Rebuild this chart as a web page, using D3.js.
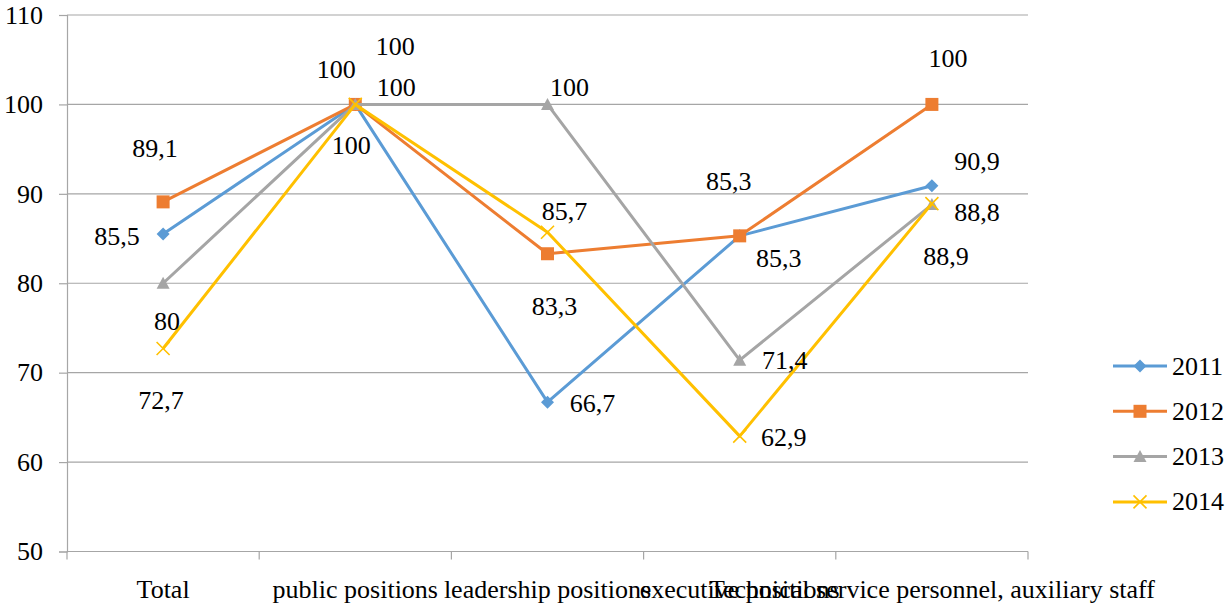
<!DOCTYPE html>
<html>
<head>
<meta charset="utf-8">
<script src="https://cdn.jsdelivr.net/npm/d3@7"></script>
<style>
  html, body { margin: 0; padding: 0; background: #fff; }
  #chart text { font-family: "Liberation Serif"; }
</style>
</head>
<body>
<svg id="chart" width="1228" height="606" font-family="Liberation Serif"></svg>
<script>
// Categories along the x axis
const categories = [
  "Total",
  "public positions",
  "leadership positions",
  "executive positions",
  "Technical service personnel, auxiliary staff"
];

// One series per year
const years = ["2011", "2012", "2013", "2014"];
const values2011 = [85.5, 100, 66.7, 85.3, 90.9];
const values2012 = [89.1, 100, 83.3, 85.3, 100];
const values2013 = [80, 100, 100, 71.4, 88.8];
const values2014 = [72.7, 100, 85.7, 62.9, 88.9];
const yTicks = [50, 60, 70, 80, 90, 100, 110];

// Styling per series
const colors = ["#5B9BD5", "#ED7D31", "#A5A5A5", "#FFC000"];
const markers = ["diamond", "square", "triangle", "cross"];

// Data label placement (dx, dy from the point, text centre)
const labelOffsets = [
  [[-46, 2], [40, -58], [45, 1], [39, 23], [45, -24]],
  [[-8, -53], [-19, -35], [7, 53], [-11, -54], [16, -46]],
  [[4, 38], [41, -17], [22, -17], [45, 0], [45, 8]],
  [[-2, 52], [-4, 41], [17, -21], [44, 1], [14, 53]]
];

const seriesValues = [values2011, values2012, values2013, values2014];
const series = years.map((name, i) => ({
  name,
  color: colors[i],
  marker: markers[i],
  values: seriesValues[i],
  offsets: labelOffsets[i]
}));

const fmt = v => String(v).replace(".", ",");

const FONT = '"Liberation Serif"';
const svg = d3.select("#chart");
const plotLeft = 67, plotRight = 1028, plotTop = 15, plotBottom = 551.5;
const gridColor = "#A6A6A6";
const fontSize = 26;

const x = d3.scaleBand().domain(categories).range([plotLeft, plotRight]).padding(0);
const y = d3.scaleLinear().domain([50, 110]).range([plotBottom, plotTop]);
const cx = c => x(c) + x.bandwidth() / 2;

function styleText(sel) {
  return sel
    .attr("font-family", "Liberation Serif")
    .style("font-family", FONT)
    .style("font-size", fontSize + "px")
    .style("font-weight", "normal")
    .attr("fill", "#000");
}

// Horizontal gridlines
svg.append("g")
  .selectAll("line")
  .data(yTicks)
  .join("line")
  .attr("x1", plotLeft).attr("x2", plotRight)
  .attr("y1", d => y(d)).attr("y2", d => y(d))
  .attr("stroke", gridColor).attr("stroke-width", 1.2);

// Y axis
const yAxis = svg.append("g")
  .attr("transform", `translate(${plotLeft},0)`)
  .call(d3.axisLeft(y).tickValues(yTicks).tickSize(8).tickPadding(16).tickFormat(d3.format("d")));
yAxis.attr("font-family", "Liberation Serif").attr("font-size", null);
yAxis.select(".domain").attr("stroke", gridColor).attr("stroke-width", 1.2);
yAxis.selectAll(".tick line").attr("stroke", gridColor).attr("stroke-width", 1.2);
styleText(yAxis.selectAll(".tick text"));

// X axis: labels centred on categories, ticks on band edges
const xAxis = svg.append("g")
  .attr("transform", `translate(0,${plotBottom})`)
  .call(d3.axisBottom(x).tickSize(0).tickPadding(28));
xAxis.attr("font-family", "Liberation Serif").attr("font-size", null);
xAxis.select(".domain").remove();
styleText(xAxis.selectAll(".tick text"));

const edges = categories.map(c => x(c)).concat([x(categories[categories.length - 1]) + x.bandwidth()]);
svg.append("line")
  .attr("x1", plotLeft).attr("x2", plotRight)
  .attr("y1", plotBottom).attr("y2", plotBottom)
  .attr("stroke", gridColor).attr("stroke-width", 1.2);
svg.append("g")
  .selectAll("line")
  .data(edges)
  .join("line")
  .attr("x1", d => d).attr("x2", d => d)
  .attr("y1", plotBottom).attr("y2", plotBottom + 8)
  .attr("stroke", gridColor).attr("stroke-width", 1.2);

// Marker drawing
function drawMarker(g, type, color, size) {
  const s = size;
  if (type === "diamond") {
    g.append("path")
      .attr("d", `M0,${-s / 2}L${s / 2},0L0,${s / 2}L${-s / 2},0Z`)
      .attr("fill", color);
  } else if (type === "square") {
    g.append("rect")
      .attr("x", -s / 2).attr("y", -s / 2)
      .attr("width", s).attr("height", s)
      .attr("fill", color);
  } else if (type === "triangle") {
    g.append("path")
      .attr("d", `M0,${-s / 2}L${s / 2},${s / 2 - 1}L${-s / 2},${s / 2 - 1}Z`)
      .attr("fill", color);
  } else {
    const h = s / 2;
    g.append("path")
      .attr("d", `M${-h},${-h}L${h},${h}M${-h},${h}L${h},${-h}`)
      .attr("stroke", color).attr("stroke-width", 1.6).attr("fill", "none");
  }
}

const line = d3.line()
  .x((d, i) => cx(categories[i]))
  .y(d => y(d));

// Series lines and markers
series.forEach(s => {
  const g = svg.append("g");
  g.append("path")
    .datum(s.values)
    .attr("d", line)
    .attr("fill", "none")
    .attr("stroke", s.color)
    .attr("stroke-width", 3)
    .attr("stroke-linejoin", "round");
  s.values.forEach((v, i) => {
    const mg = g.append("g").attr("transform", `translate(${cx(categories[i])},${y(v)})`);
    drawMarker(mg, s.marker, s.color, 13);
  });
});

// Data labels
series.forEach(s => {
  styleText(svg.append("g")
    .selectAll("text")
    .data(s.values)
    .join("text")
    .attr("x", (v, i) => cx(categories[i]) + s.offsets[i][0])
    .attr("y", (v, i) => y(v) + s.offsets[i][1])
    .attr("dy", "0.33em")
    .attr("text-anchor", "middle")
    .text(v => fmt(v)));
});

// Legend
const legend = svg.append("g").attr("transform", "translate(1113,366)");
series.forEach((s, i) => {
  const row = legend.append("g").attr("transform", `translate(0,${i * 45.3})`);
  row.append("line")
    .attr("x1", 0).attr("x2", 54)
    .attr("y1", 0).attr("y2", 0)
    .attr("stroke", s.color).attr("stroke-width", 3);
  const mg = row.append("g").attr("transform", "translate(27,0)");
  drawMarker(mg, s.marker, s.color, 13);
  styleText(row.append("text")
    .attr("x", 59).attr("y", 0).attr("dy", "0.33em")
    .text(s.name));
});
</script>
</body>
</html>
